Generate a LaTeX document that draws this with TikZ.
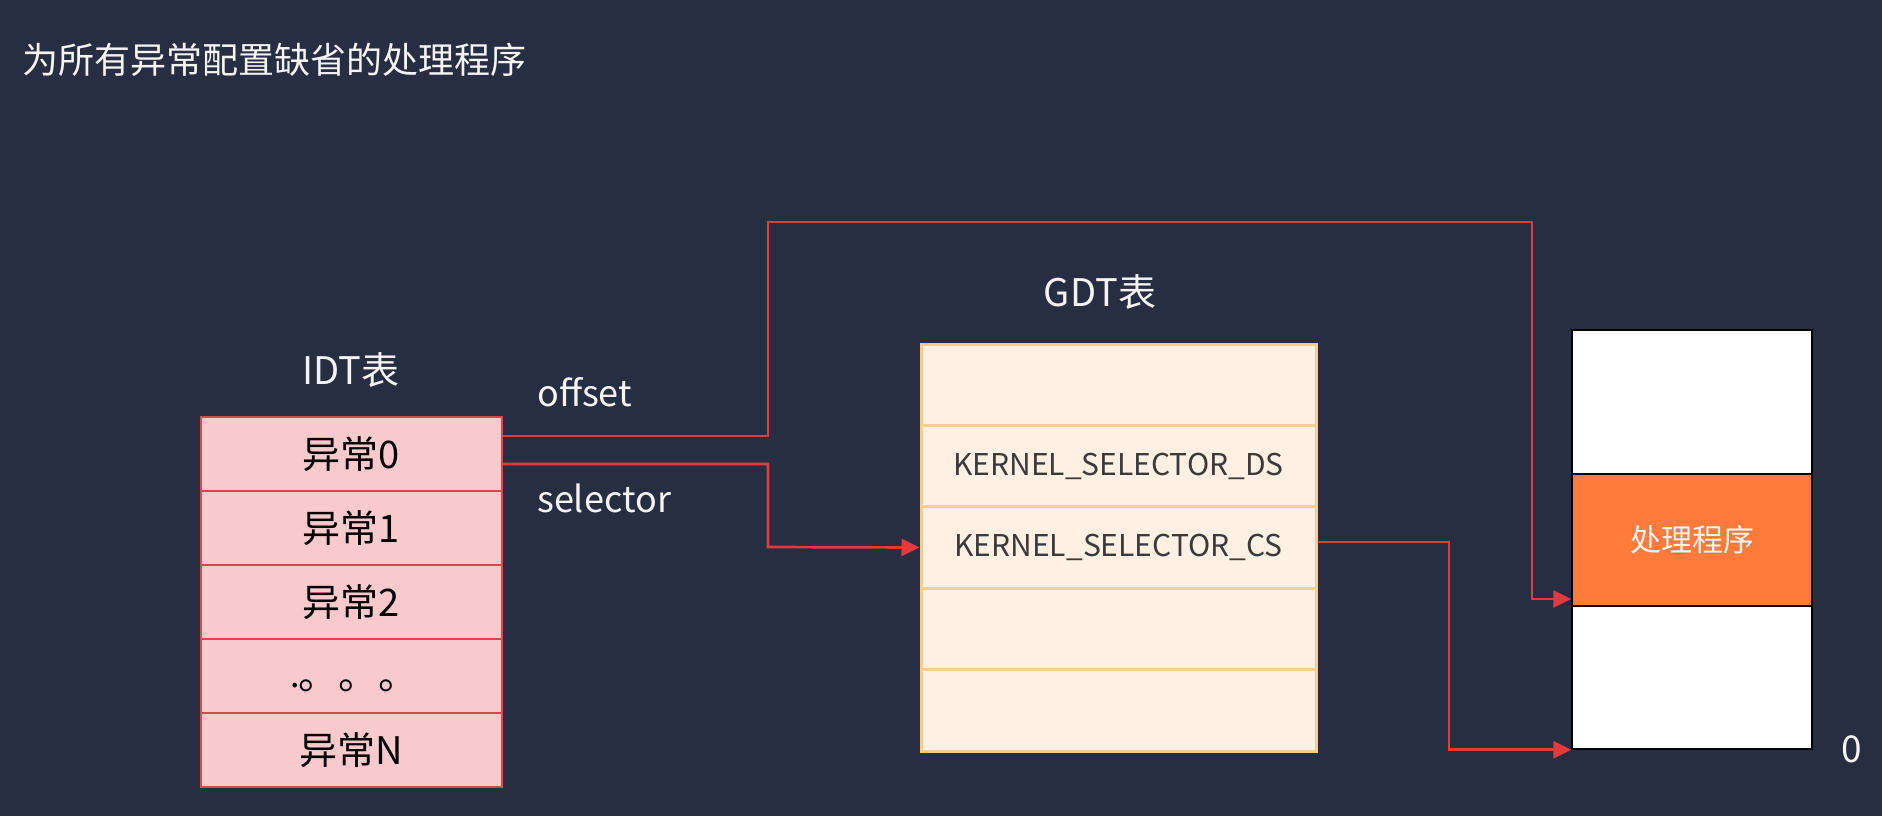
\documentclass[tikz,border=0pt]{standalone}
\usepackage{fontspec}
\setmainfont{Noto Sans CJK SC}
\usetikzlibrary{arrows.meta}
\definecolor{bg}{HTML}{282E41}
\definecolor{idtfill}{HTML}{F8C9CD}
\definecolor{idtline}{HTML}{D9484F}
\definecolor{gdtfill}{HTML}{FFF0E3}
\definecolor{gdtline}{HTML}{FFCB8E}
\definecolor{gdttext}{HTML}{3A3A3A}
\definecolor{handler}{HTML}{FE7B3C}
\definecolor{conn}{HTML}{E23A3E}
\definecolor{wtext}{HTML}{F4F4F4}
\begin{document}
\begin{tikzpicture}[x=1pt,y=-1pt,
  lbl/.style={text=wtext,inner sep=0pt,font=\fontsize{38}{46}\selectfont},
  idtrow/.style={draw=idtline,line width=1.5pt,fill=idtfill,minimum width=301pt,minimum height=74pt,inner sep=0pt,font=\fontsize{38}{46}\selectfont,text=black},
  gdtrow/.style={draw=gdtline,line width=3pt,fill=gdtfill,minimum width=395pt,minimum height=81.4pt,inner sep=0pt,font=\fontsize{30}{36}\selectfont,text=gdttext},
  memrow/.style={draw=black,line width=1.5pt,fill=white,minimum width=240pt,inner sep=0pt},
  connline/.style={draw=conn,line width=2.7pt},
  connarrow/.style={connline,-{Triangle[length=18pt,width=17pt]}}
]
\fill[bg] (0,0) rectangle (1882,816);
\useasboundingbox (0,0) rectangle (1882,816);

% title
\node[lbl,anchor=west,font=\fontsize{36}{44}\selectfont] (title) at (22,60) {为所有异常配置缺省的处理程序};

% IDT table
\node[lbl] (idtlabel) at (351,370) {IDT表};
\node[idtrow] (idt0) at (351.5,454) {异常0};
\node[idtrow] (idt1) at (351.5,528) {异常1};
\node[idtrow] (idt2) at (351.5,602) {异常2};
\node[idtrow] (idt3) at (351.5,676) {};
\node[inner sep=0pt,font=\fontsize{40}{46}\selectfont,text=black] (dots) at (358,686) {\llap{\raisebox{0.05em}{\fontsize{34}{34}\selectfont .}\kern-2pt}。。。};
\node[idtrow] (idtn) at (351.5,750) {异常N};

\node[lbl,anchor=west,font=\fontsize{36}{44}\selectfont] (offset) at (537,392) {offset};
\node[lbl,anchor=west,font=\fontsize{36}{44}\selectfont] (selector) at (537,498) {selector};

% GDT table
\node[lbl] (gdtlabel) at (1100,292) {GDT表};
\node[gdtrow] (gdt0) at (1118.5,384.7) {};
\node[gdtrow] (gdt1) at (1118.5,466.1) {KERNEL\_SELECTOR\_DS};
\node[gdtrow] (gdt2) at (1118.5,547.5) {KERNEL\_SELECTOR\_CS};
\node[gdtrow] (gdt3) at (1118.5,628.9) {};
\node[gdtrow] (gdt4) at (1118.5,710.3) {};

% memory
\node[memrow,minimum height=144pt] (memtop) at (1692,402) {};
\node[memrow,minimum height=143pt] (membot) at (1692,677.5) {};
\node[memrow,fill=handler,minimum height=132pt,text=wtext,font=\fontsize{31}{38}\selectfont] (handler) at (1692,540) {处理程序};
\node[lbl,font=\fontsize{37}{44}\selectfont] (zero) at (1852,749) {0};

% connectors
\coordinate (ofsturn) at (768,222);
\coordinate (csturn) at (1449,542);
\draw[connarrow] (idt0.east |- 0,436) -| (ofsturn) -| (1532,599) -- (handler.west |- 0,599);
\draw[connarrow] (idt0.east |- 0,464) -| (768,547) -- (gdt2.west);
\draw[connarrow] (gdt2.east |- csturn) -- (csturn) |- (membot.south west);
\end{tikzpicture}
\end{document}
